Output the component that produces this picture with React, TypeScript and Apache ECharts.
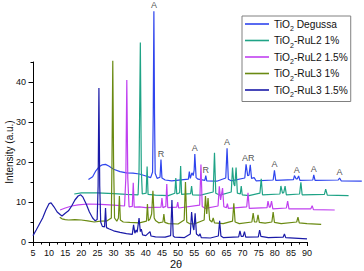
import React, { useEffect, useRef } from "react";
import * as echarts from "echarts";

const seriesNames = [
  "TiO2 Degussa",
  "TiO2-RuL2 1%",
  "TiO2-RuL2 1.5%",
  "TiO2-RuL3 1%",
  "TiO2-RuL3 1.5%",
];
const seriesColors = ["#2f45ee", "#1fa386", "#c040f0", "#6a8a12", "#1a1aa8"];

// visible x axis 5..90; traces are offset and run past 90, to 107
const xDataRange = [5, 107.5];
const xMajorTicks = [5, 10, 15, 20, 25, 30, 35, 40, 45, 50, 55, 60, 65, 70, 75, 80, 85, 90];
const xMinorTicks = [7.5, 12.5, 17.5, 22.5, 27.5, 32.5, 37.5, 42.5, 47.5, 52.5, 57.5, 62.5, 67.5, 72.5, 77.5, 82.5, 87.5];
const xNameAt = 49.4;
const yAxisRange = [0, 45];
const yMajorTicks = [0, 10, 20, 30, 40];
const yMinorTicks = [5, 15, 25, 35, 45];

// TiO2 Degussa (top trace, as plotted)
const degussa: [number, number][] = [
  [22.2, 15.6], [23.5, 16.3], [24.5, 17.8], [25.5, 18.8], [26.5, 19.3], [27.5, 19.4],
  [28.5, 19.0], [30, 18.2], [32, 17.6], [34, 17.3], [36, 17.2], [38, 17.0], [40, 16.5],
  [41.5, 16.1], [42.1, 17.5], [42.3, 32], [42.5, 57.7], [42.7, 32], [42.9, 17.2],
  [43.5, 15.9], [44.4, 16.2], [44.7, 20.6], [45.0, 16.0], [46, 15.5], [48, 15.3],
  [53.2, 15.7], [53.5, 17.6], [53.8, 15.9], [54.3, 17.3], [54.7, 16.6], [55.0, 18],
  [55.2, 22.0], [55.6, 16.1], [56.2, 15.7], [58.3, 15.4], [58.6, 16.6], [58.9, 15.3],
  [62, 15.2], [64.8, 16.0], [65.2, 23.4], [65.6, 15.7], [66.5, 15.3], [70.7, 16.0],
  [71.1, 19.4], [71.6, 16.6], [72.0, 16.7], [72.4, 19.3], [72.8, 15.9], [73.6, 16.1],
  [74.2, 15.3], [79.5, 15.5], [79.9, 17.9], [80.3, 15.4], [85.8, 15.6], [86.1, 16.6],
  [86.6, 15.8], [87.0, 15.8], [87.4, 16.5], [87.8, 15.4], [91.8, 15.5], [92.1, 16.8],
  [92.5, 15.4], [99.7, 15.5], [100.1, 16.0], [100.6, 15.3], [107, 15.2],
];

// TiO2-RuL2 1%
const rul2a: [number, number][] = [
  [17.8, 12.0], [20, 12.3], [25, 12.3], [30, 12.1], [34, 11.9], [37.6, 11.8],
  [37.9, 18], [38.3, 49.9], [38.6, 18], [38.9, 12], [40.1, 12.2], [40.4, 18.9],
  [40.7, 11.9], [43, 11.7], [47, 11.6], [49.0, 12.2], [49.3, 16.0], [49.6, 12.0],
  [50.5, 12.3], [50.8, 19.0], [51.1, 11.9], [53.9, 12.1], [54.2, 14.0], [54.5, 11.8],
  [57, 11.7], [60.9, 12.5], [61.3, 22.3], [61.7, 12.2], [63, 11.7], [66.5, 12.5],
  [66.9, 18.6], [67.3, 14.5], [67.6, 14.0], [68.0, 18.6], [68.4, 12.2], [69.3, 12.0],
  [69.6, 14.0], [69.9, 11.8], [72, 11.6], [75.4, 12.2], [75.8, 15.8], [76.2, 11.8],
  [81.6, 12.0], [81.9, 14.0], [82.4, 12.2], [82.8, 12.4], [83.2, 14.0], [83.6, 11.8],
  [87.7, 12.0], [88.1, 14.9], [88.5, 11.8], [95.4, 11.9], [95.8, 13.2], [96.3, 11.7],
  [102.9, 11.6],
];

// TiO2-RuL2 1.5%
const rul2b: [number, number][] = [
  [13.4, 8.0], [15, 8.5], [17, 9.0], [19, 9.3], [22, 9.5], [26, 9.4], [30, 9.2],
  [33.4, 9.0], [33.8, 16], [34.1, 40.5], [34.4, 16], [34.8, 8.8], [35.8, 8.9],
  [36.1, 14.8], [36.4, 8.7], [38, 8.8], [40, 8.6], [44.7, 8.7], [45.0, 11.0],
  [45.3, 8.6], [46.2, 8.9], [46.5, 14.5], [46.8, 8.6], [49.6, 8.7], [49.9, 10.0],
  [50.2, 8.5], [56.7, 9.2], [57.1, 19.4], [57.5, 8.9], [58.5, 8.4], [62.4, 9.0],
  [62.8, 13.9], [63.2, 10.5], [63.4, 10.5], [63.8, 13.5], [64.2, 8.8], [65.0, 8.6],
  [65.3, 9.6], [65.6, 8.4], [71.3, 8.8], [71.7, 12.3], [72.1, 8.4], [77.6, 8.6],
  [77.9, 10.2], [78.3, 8.7], [78.6, 8.7], [79.0, 10.2], [79.4, 8.3], [83.6, 8.5],
  [84.0, 10.2], [84.4, 8.3], [91.2, 8.3], [91.6, 9.1], [92.0, 8.1], [98.6, 8.0],
];

// TiO2-RuL3 1%
const rul3a: [number, number][] = [
  [13.3, 6.2], [14, 5.8], [15, 5.6], [16, 5.5], [18, 5.6], [20, 5.5], [22, 5.3],
  [24, 5.0], [26, 5.2], [28, 5.3], [29.3, 6.0], [29.5, 20], [29.75, 45.3], [30.0, 20],
  [30.3, 6.0], [31.0, 5.2], [31.5, 6.0], [31.8, 11.5], [32.1, 5.5], [33, 5.0],
  [35, 4.9], [38, 4.8], [40.2, 5.2], [40.5, 9.5], [40.8, 5.3], [41.3, 5.8], [41.8, 7.0],
  [42.2, 12.8], [42.6, 6.0], [43, 5.4], [44, 4.8], [45.3, 5.0], [45.6, 7.0],
  [45.9, 4.9], [47, 4.6], [50, 4.5], [51.9, 5.5], [52.3, 15.0], [52.7, 5.0],
  [53.5, 4.6], [55, 4.5], [58.1, 5.5], [58.5, 11.5], [58.9, 7.0], [59.3, 11.0],
  [59.8, 5.5], [60.5, 5.0], [60.9, 6.0], [61.3, 4.8], [64, 4.6], [66.9, 5.2],
  [67.3, 9.7], [67.7, 5.0], [69, 4.6], [72.9, 5.0], [73.3, 7.2], [73.7, 5.0],
  [74.4, 5.0], [74.8, 6.8], [75.2, 4.9], [77, 4.7], [79.1, 5.0], [79.5, 7.5],
  [79.9, 4.9], [82, 4.6], [86.8, 5.0], [87.2, 6.2], [87.6, 4.8], [90, 4.6], [94.4, 4.4],
];

// TiO2-RuL3 1.5% (bottom trace)
const rul3b: [number, number][] = [
  [5, 1.6], [6, 3.0], [7, 4.5], [8, 6.0], [9, 8.0], [10, 9.6], [10.6, 9.8], [11.5, 8.8],
  [12.5, 7.5], [13.5, 6.8], [14, 6.5], [15, 7.2], [16, 7.8], [17, 9.0], [18, 10.5],
  [19, 11.5], [19.8, 11.8], [20.5, 11.2], [21.5, 9.5], [22.5, 7.5], [23.5, 6.0],
  [24.3, 5.3], [24.9, 5.6], [25.2, 14], [25.45, 38.5], [25.7, 14], [26.0, 5.0],
  [26.5, 3.9], [27.2, 3.8], [27.5, 8.5], [27.8, 3.6], [28.5, 3.3], [30, 2.8],
  [32, 2.4], [34, 2.1], [35.8, 1.9], [36.2, 4.3], [36.6, 2.2], [37.0, 3.0],
  [37.3, 2.4], [37.9, 6.0], [38.3, 2.6], [38.6, 3.2], [39, 1.8], [40, 1.6],
  [41.3, 2.6], [41.6, 1.5], [43, 1.3], [46, 1.2], [47.7, 1.6], [48.1, 10.5],
  [48.5, 1.5], [49, 1.2], [52, 1.1], [53.8, 2.0], [54.2, 7.5], [54.6, 4.0],
  [54.9, 3.0], [55.3, 7.2], [55.7, 2.0], [56.5, 1.5], [56.8, 2.1], [57.2, 1.1],
  [60, 1.0], [62.5, 1.5], [62.9, 5.3], [63.3, 1.5], [64, 1.1], [68.8, 1.3],
  [69.2, 2.8], [69.6, 1.4], [70.2, 1.4], [70.6, 2.6], [71.0, 1.2], [74.9, 1.3],
  [75.3, 3.0], [75.7, 1.4], [78, 1.1], [82.6, 1.2], [83.0, 2.0], [83.4, 1.1], [90, 0.8],
];

const peakLetters = ["A", "R", "A", "R", "A", "AR", "A", "A", "A", "A"];
const peakPos = [42.5, 44.7, 55.2, 58.6, 65.2, 71.8, 79.9, 86.8, 92.1, 100.1];
const peakTop = [57.7, 20.6, 22.0, 16.6, 23.4, 19.4, 17.9, 16.6, 16.8, 16.0];

const allData = [degussa, rul2a, rul2b, rul3a, rul3b];

const FONT = "'Liberation Sans', Arial, sans-serif";

function legendName(name: string): string {
  const rest = name.slice(4);
  return `{n|TiO}{s|2}{n|${rest}}`;
}

export default function App() {
  const ref = useRef<HTMLDivElement>(null);
  useEffect(() => {
    if (!ref.current) return;
    const chart = echarts.init(ref.current, undefined, { renderer: "svg" });
    const left = 33;
    const visibleWidth = 274;
    const xFirst = xMajorTicks[0];
    const xLast = xMajorTicks[xMajorTicks.length - 1];
    const pxPerUnit = visibleWidth / (xLast - xFirst);
    const gridWidth = pxPerUnit * (xDataRange[1] - xDataRange[0]);
    // shift the axis name from the middle of the wide grid to its place under the visible axis
    const nameShift = ((xDataRange[1] + xDataRange[0]) / 2 - xNameAt) * pxPerUnit;

    const lineSeries: any[] = seriesNames.map((name, i) => ({
      name,
      type: "line",
      data: allData[i],
      showSymbol: false,
      symbol: "none",
      clip: false,
      lineStyle: { width: 1.2, color: seriesColors[i] },
      itemStyle: { color: seriesColors[i] },
      z: 2 + i,
    }));
    // visible bottom axis line from 5 to 90
    lineSeries[4].markLine = {
      silent: true,
      symbol: "none",
      label: { show: false },
      lineStyle: { color: "#000", width: 1, type: "solid" },
      data: [[{ coord: [xFirst, 0] }, { coord: [xLast, 0] }]],
    };

    chart.setOption({
      animation: false,
      backgroundColor: "#fff",
      textStyle: { fontFamily: FONT },
      grid: {
        left,
        width: gridWidth,
        top: 62,
        bottom: 29,
        containLabel: false,
        outerBoundsMode: "none",
      },
      legend: {
        data: seriesNames,
        orient: "vertical",
        left: 242,
        top: 16,
        backgroundColor: "#fff",
        borderColor: "#808080",
        borderWidth: 1,
        borderRadius: 0,
        padding: [3, 3, 3, 3],
        itemGap: 3,
        itemWidth: 24,
        itemHeight: 1.6,
        itemTextGap: 3,
        icon: "rect",
        formatter: legendName,
        textStyle: {
          fontFamily: FONT,
          color: "#111",
          rich: {
            n: { fontSize: 10.2, fontFamily: FONT, color: "#111", lineHeight: 13 },
            s: { fontSize: 7, fontFamily: FONT, color: "#111", verticalAlign: "bottom", lineHeight: 8, padding: [0, 0, -2, 0] },
          },
        },
      },
      xAxis: [
        {
          type: "value",
          min: xDataRange[0],
          max: xDataRange[1],
          name: "2θ",
          nameLocation: "middle",
          nameGap: 16,
          nameMoveOverlap: false,
          nameTextStyle: { fontSize: 11, lineHeight: 12, color: "#111", fontFamily: FONT, padding: [0, nameShift * 2, 0, 0] },
          axisLine: { show: false },
          axisTick: { show: true, length: 4, customValues: xMajorTicks, lineStyle: { color: "#000" } },
          axisLabel: { show: true, fontSize: 9, color: "#111", margin: 6, customValues: xMajorTicks, fontFamily: FONT },
          splitLine: { show: false },
        },
        {
          type: "value",
          position: "bottom",
          min: xDataRange[0],
          max: xDataRange[1],
          axisLine: { show: false },
          axisTick: { show: true, length: 2.5, customValues: xMinorTicks, lineStyle: { color: "#000" } },
          axisLabel: { show: false },
          splitLine: { show: false },
        },
      ],
      yAxis: [
        {
          type: "value",
          min: yAxisRange[0],
          max: yAxisRange[1],
          interval: 10,
          name: "Intensity (a.u.)",
          nameLocation: "middle",
          nameRotate: 90,
          nameGap: 18,
          nameMoveOverlap: false,
          nameTextStyle: { fontSize: 10, lineHeight: 11, color: "#111", fontFamily: FONT },
          axisLine: { show: true, lineStyle: { color: "#000", width: 1 } },
          axisTick: { show: true, length: 4.5, customValues: yMajorTicks, lineStyle: { color: "#000" } },
          axisLabel: { fontSize: 9, color: "#111", margin: 7, customValues: yMajorTicks, fontFamily: FONT },
          splitLine: { show: false },
        },
        {
          type: "value",
          min: yAxisRange[0],
          max: yAxisRange[1],
          position: "left",
          axisLine: { show: false },
          axisTick: { show: true, length: 2.5, customValues: yMinorTicks, lineStyle: { color: "#000" } },
          axisLabel: { show: false },
          splitLine: { show: false },
        },
      ],
      series: [
        ...lineSeries,
        {
          name: "peaks",
          type: "scatter",
          clip: false,
          symbolSize: 1,
          itemStyle: { color: "rgba(0,0,0,0)" },
          data: peakLetters.map((t, i) => ({ name: t, value: [peakPos[i], peakTop[i]] })),
          label: {
            show: true,
            position: "top",
            distance: 1,
            formatter: "{b}",
            fontSize: 9,
            lineHeight: 9,
            color: "#222",
            fontFamily: FONT,
          },
          z: 20,
        },
      ],
    });
    return () => chart.dispose();
  }, []);
  return (
    <div
      ref={ref}
      style={{ position: "fixed", left: 0, top: 0, width: 364, height: 271 }}
    />
  );
}
